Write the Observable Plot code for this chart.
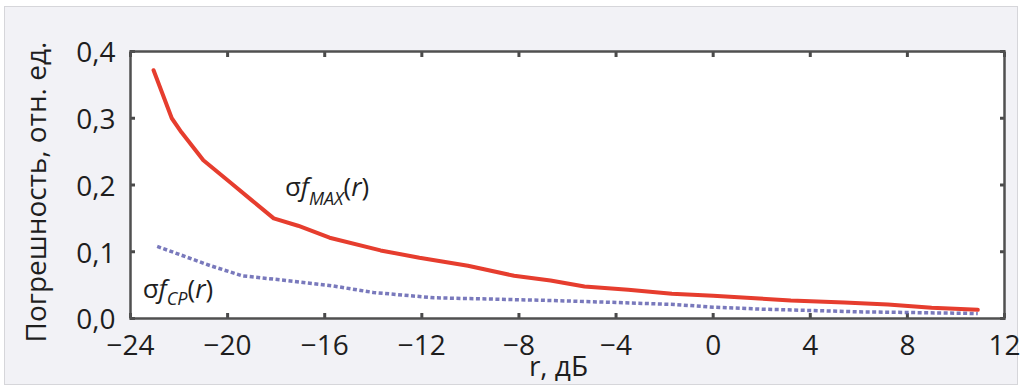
<!DOCTYPE html>
<html>
<head>
<meta charset="utf-8">
<script src="https://cdn.jsdelivr.net/npm/d3@7"></script>
<script src="https://cdn.jsdelivr.net/npm/@observablehq/plot@0.6"></script>
<style>
  html, body { margin: 0; padding: 0; background: #ffffff; }
  #wrap { position: relative; width: 1023px; height: 390px; }
  #panel { position: absolute; left: 4px; top: 6px; width: 1014px; height: 379px; box-sizing: border-box;
           background: #f2f2f6; border: 1.5px solid #d6d6da; }
  #chart { position: absolute; left: 0; top: 0; }
</style>
</head>
<body>
<div id="wrap"><div id="panel"></div><div id="chart"></div></div>
<script>
// --- data ---
const rMax = [-23.05, -22.3, -21.9, -21.0, -19.9, -19.0, -18.1, -17.1, -15.8, -13.7, -12.1, -10.1, -8.2, -6.7, -5.3, -3.5, -1.7, 0.0, 1.9, 3.2, 5.4, 7.2, 9.0, 10.9];
const sMax = [0.372, 0.300, 0.279, 0.237, 0.204, 0.177, 0.150, 0.139, 0.121, 0.102, 0.091, 0.079, 0.064, 0.057, 0.048, 0.043, 0.037, 0.034, 0.030, 0.027, 0.024, 0.021, 0.016, 0.013];
const rCp = [-22.9, -20.7, -19.4, -17.6, -15.7, -14.0, -11.5, -9.0, -6.7, -4.0, -1.6, 0.0, 2.0, 4.0, 6.0, 8.0, 10.9];
const sCp = [0.108, 0.079, 0.064, 0.057, 0.049, 0.039, 0.031, 0.029, 0.027, 0.024, 0.021, 0.017, 0.014, 0.012, 0.010, 0.009, 0.0075];
const xTicks = [-24, -20, -16, -12, -8, -4, 0, 4, 8, 12];
const yTicks = [0, 0.1, 0.2, 0.3, 0.4];
const xLabel = "r, дБ";
const yLabel = "Погрешность, отн. ед.";
const labelMax = {r: -17.64, s: 0.184, text: "σf_MAX(r)"};
const labelCp = {r: -23.5, s: 0.031, text: "σf_CP(r)"};

const maxData = rMax.map((r, i) => ({r, s: sMax[i]}));
const cpData = rCp.map((r, i) => ({r, s: sCp[i]}));

const fmtX = d => d < 0 ? "\u2212" + Math.abs(d) : String(d);
const fmtY = d => d.toFixed(1).replace(".", ",");
const tickColor = "#4a4a4a";

const plot = Plot.plot({
  width: 1023,
  height: 390,
  marginLeft: 130,
  marginRight: 19,
  marginTop: 51,
  marginBottom: 72,
  style: {background: "transparent", fontFamily: "'Open Sans', sans-serif", fontSize: "28px", color: "#1e1e1e", overflow: "visible"},
  x: {domain: [-24, 12]},
  y: {domain: [0, 0.4]},
  marks: [
    Plot.frame({fill: "white"}),
    Plot.axisX({ticks: xTicks, tickSize: 0, tickPadding: 17, tickFormat: fmtX, label: null, fontSize: 28}),
    Plot.axisX({ticks: xTicks, tickSize: -5, text: null, label: null, strokeWidth: 3, stroke: tickColor}),
    Plot.axisX({anchor: "top", ticks: xTicks, tickSize: -5, text: null, label: null, strokeWidth: 3, stroke: tickColor}),
    Plot.axisY({ticks: yTicks, tickSize: 0, tickPadding: 15, tickFormat: fmtY, label: null, fontSize: 28, dy: 2}),
    Plot.axisY({ticks: yTicks, tickSize: -5, text: null, label: null, strokeWidth: 3, stroke: tickColor}),
    Plot.axisY({anchor: "right", ticks: yTicks, tickSize: -5, text: null, label: null, strokeWidth: 3, stroke: tickColor}),
    Plot.line(cpData, {x: "r", y: "s", stroke: "#6262b0", strokeWidth: 3.5, strokeDasharray: "4,2.5", strokeLinecap: "butt", strokeOpacity: 0.85}),
    Plot.line(maxData, {x: "r", y: "s", stroke: "#e63d2e", strokeWidth: 4}),
    Plot.frame({stroke: "#505050", strokeWidth: 2.5}),
    Plot.text([xLabel], {frameAnchor: "bottom", text: d => d, dx: -9, dy: 57, lineAnchor: "bottom", fontSize: 28, fill: "#1e1e1e"}),
    Plot.text([yLabel], {frameAnchor: "left", text: d => d, rotate: -90, dx: -104, dy: 7, textAnchor: "middle", lineAnchor: "top", fontSize: 28, fill: "#1e1e1e"}),
    Plot.text([labelMax, labelCp], {x: "r", y: "s", text: "text", textAnchor: "start", lineAnchor: "bottom", fontSize: 26, fill: "#1e1e1e"})
  ]
});

document.getElementById("chart").appendChild(plot);

// rich text for the curve labels: σ f_sub (r)
d3.select(plot).selectAll("text").each(function () {
  const t = this.textContent;
  const m = /^σf_([A-Z]+)\(r\)$/.exec(t);
  if (!m) return;
  const sel = d3.select(this);
  sel.text(null);
  sel.append("tspan").text("σ");
  sel.append("tspan").attr("font-style", "italic").text("f");
  sel.append("tspan").attr("font-style", "italic").attr("font-size", "18px").attr("dy", m[1] === "MAX" ? 9 : 7).text(m[1]);
  sel.append("tspan").attr("dy", m[1] === "MAX" ? -9 : -7).text("(");
  sel.append("tspan").attr("font-style", "italic").text("r");
  sel.append("tspan").text(")");
});
</script>
</body>
</html>
